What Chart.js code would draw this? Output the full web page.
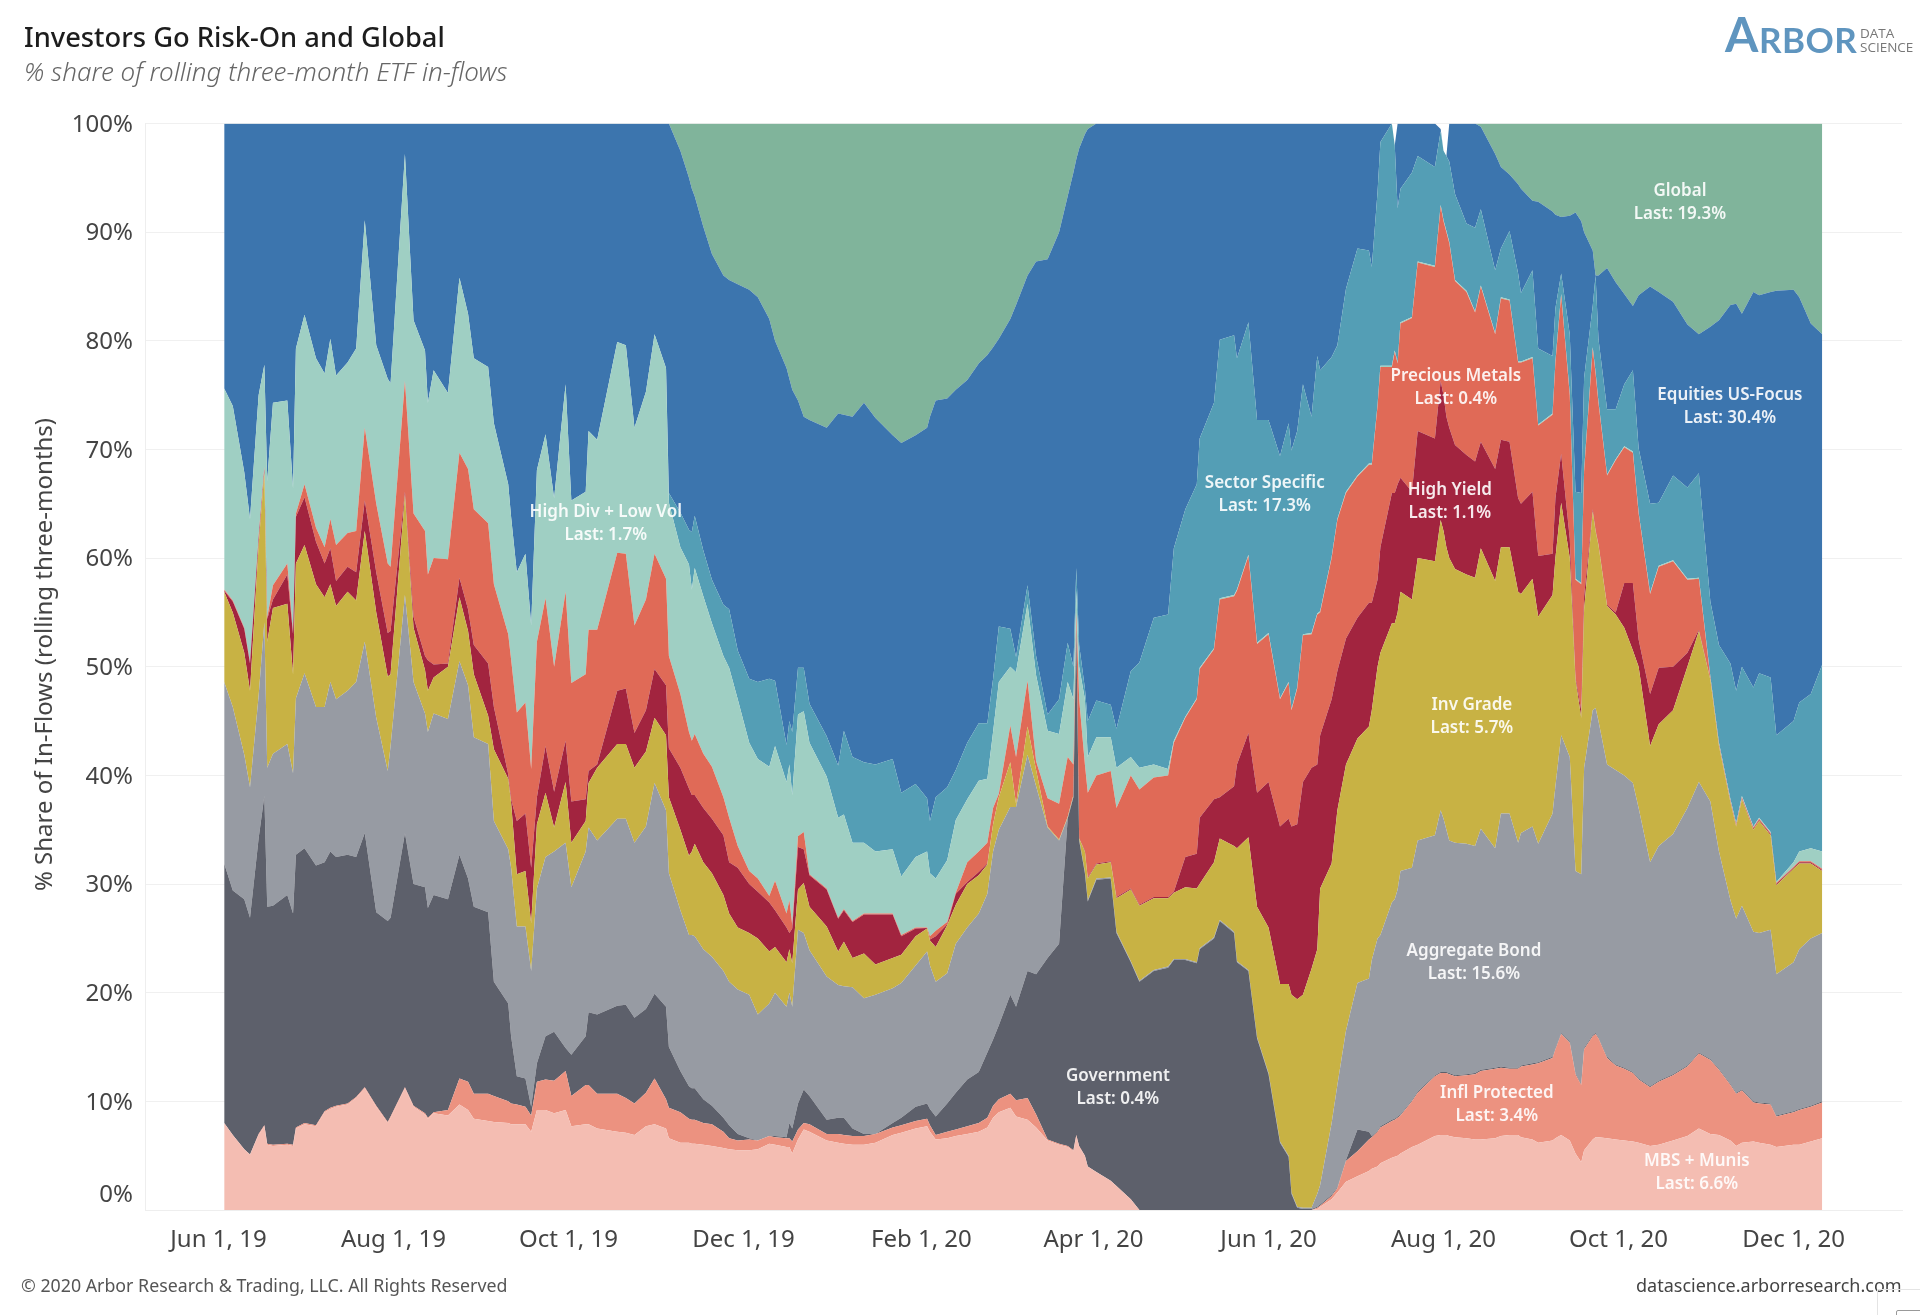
<!DOCTYPE html>
<html><head><meta charset="utf-8">
<style>
html,body{margin:0;padding:0;background:#fff;width:1920px;height:1315px;overflow:hidden}
#wrap{position:relative;width:1920px;height:1315px}
canvas{position:absolute;left:0;top:0}
.t{position:absolute;white-space:nowrap;font-family:"Noto Sans",sans-serif}
#title{left:24px;top:18px;font-size:27.3px;font-weight:500;color:#1d1d1d}
#sub{left:24px;top:53px;font-size:26px;font-style:italic;font-weight:300;color:#666}
#foot{left:21px;top:1273px;font-size:17.8px;color:#555}
#site{left:1636px;top:1273px;font-size:18px;color:#444}
#logoA{left:1725px;top:5px;font-family:Lato,sans-serif;font-size:48px;color:#5f95bf;font-weight:700}
#logoB{left:1759px;top:18px;font-family:Lato,sans-serif;font-size:35px;color:#5f95bf;font-weight:700;letter-spacing:.5px}
#logoC{left:1860px;top:26px;font-family:"Open Sans",sans-serif;font-size:13.5px;line-height:14px;color:#777}
#corner{position:absolute;left:1877px;top:1289px;width:43px;height:26px;border-left:1px solid #e4e4e4;border-top:1px solid #e4e4e4;box-sizing:border-box}
#corner i{position:absolute;left:18px;top:20px;width:30px;height:10px;border:1px solid #999;border-radius:2px;box-sizing:border-box}
</style></head>
<body><div id="wrap">
<canvas id="c" width="1920" height="1315"></canvas>
<div class="t" id="title">Investors Go Risk-On and Global</div>
<div class="t" id="sub">% share of rolling three-month ETF in-flows</div>
<div class="t" id="foot">© 2020 Arbor Research &amp; Trading, LLC. All Rights Reserved</div>
<div class="t" id="site">datascience.arborresearch.com</div>
<div class="t" id="logoA">A</div><div class="t" id="logoB">RBOR</div>
<div class="t" id="logoC">DATA<br>SCIENCE</div>
<div id="corner"><i></i></div>
</div>
<script src="https://cdn.jsdelivr.net/npm/chart.js@4"></script>
<script>
const days = [
2,5,9,11,14,16,17,19,24,26,27,30,34,37,39,41,45,48,51,55,59,60,65,68,72,73,75,80,84,87,89,94,96,101,102,104,107,109,111,114,117,121,123,128,129,132,139,142,145,149,152,156,157,
161,164,165,166,169,172,176,178,181,185,188,192,194,198,199,200,202,204,206,212,216,218,221,225,229,235,238,243,247,248,250,254,257,261,265,268,270,272,276,278,282,285,289,293,296,298,299,300,302,303,306,311,313,318,
321,326,331,333,337,341,342,347,349,354,355,359,362,366,370,373,374,376,378,381,383,384,388,390,393,397,401,402,404,405,409,410,411,412,416,418,424,426,427,428,429,431,435,438,440,445,447,450,453,
454,458,460,465,466,468,471,473,475,476,479,480,481,484,487,490,493,495,499,502,507,512,516,520,523,527,529,531,535,537,541,543,549,551,555,559];

// Upper edge of each stacked band, in cumulative % share
const topMbs = [
8,6.9,5.6,5.1,6.9,7.7,6,5.9,6,5.9,7.5,7.9,7.7,9,9.3,9.5,9.7,10.3,11.2,9.5,8,8.5,11.2,9.5,8.8,8.4,8.9,8.7,9.7,9.2,8.4,8.2,8.1,8,7.9,7.9,7.9,7.2,9.2,9.2,8.9,9.2,7.7,7.9,7.9,7.5,7.2,7.1,6.9,7.7,7.9,7.5,6.6,
6.2,6.2,6.1,6.1,6,5.9,5.7,5.6,5.5,5.5,5.6,6.1,6,5.8,5.8,5.2,6.5,7.4,7.2,6.4,6.2,6.1,6,6,6.2,6.9,7.1,7.5,7.7,7.2,6.5,6.6,6.8,7,7.2,7.6,8.5,9,9.4,8.6,8.3,7.6,6.4,6,5.8,5.4,6.8,5.8,5,4,3.5,2.7,2.2,1,
0,0,0,0,0,0,0,0,0,0,0,0,0,0,0,0,0,0,0,0,0.1,0.3,1,1.6,2.6,3.1,3.6,3.8,4,4.3,4.8,4.9,5,5.2,5.8,6,6.8,6.9,6.9,6.9,6.8,6.7,6.6,6.5,6.5,6.6,6.8,6.9,6.9,
6.7,6.5,6.2,6.4,6.6,6.9,6.4,5.2,4.4,5.5,6.5,6.7,6.7,6.6,6.5,6.4,6.3,6.2,5.9,6,6.4,6.8,7.5,7,6.9,6.4,5.9,6.2,6.3,6.2,6,5.8,6,6,6.3,6.6];
const topInfl = [
8,6.9,5.6,5.1,7,7.8,6.1,6,6.1,6,7.6,8,7.8,9.1,9.4,9.6,9.8,10.4,11.3,9.6,8.1,8.6,11.3,9.6,8.9,8.5,9,9.2,12.1,11.8,10.7,10.7,10.5,10,9.8,9.7,9.5,8.7,11.8,12,11.9,12.8,10.5,11.5,11.5,10.7,10.7,10.3,9.8,10.8,12.1,10.2,9.4,
9,8.4,8.3,8.3,8,7.9,7.2,6.6,6.4,6.5,6.4,6.8,6.7,6.6,6.6,6.3,7.4,8,7.9,7,7,6.9,6.8,6.8,7,7.6,7.8,8.2,8.4,7.8,6.9,7.2,7.4,7.7,8,8.5,9.6,10.2,10.7,10.1,10.3,8.8,6.5,6.1,5.9,5.5,6.9,5.9,5,4,3.5,2.7,2.2,1,
0,0,0,0,0,0,0,0,0,0,0,0,0,0,0,0,0,0,0,0,0.2,0.4,1.3,2,4.5,5.4,6.5,6.7,7.2,7.6,8.2,8.3,8.5,8.7,10,10.8,12.3,12.6,12.6,12.6,12.5,12.3,12.4,12.5,12.8,13,13.1,13,13,
13.2,13.4,13.5,14,14.8,16.2,15.4,12.5,11.5,14.8,16,16.2,15.8,14,13.3,13,12.6,12,11.3,11.8,12.4,13.2,14.4,13.8,12.9,11.5,10.7,11,9.9,9.8,9.7,8.6,9,9.2,9.5,9.9];
const topGov = [
31.9,29.4,28.6,26.9,34.2,38.1,27.9,28,29,27.3,32.7,33.3,31.7,32,33,32.5,32.7,32.5,34.7,27.4,26.6,26.9,34.7,30,29.7,27.8,29,28.6,32.7,30.5,27.9,27.4,21,19,16,12.3,12.1,9.5,13.5,16,16.4,14.9,14.3,16,18.2,18,18.8,18.9,17.7,18.5,19.9,18.7,15,
12.8,11.4,11.2,11.2,10.2,9.6,8.5,7.8,7,6.6,6.4,6.8,6.8,6.7,8,7.5,9.8,11.1,10.5,8.3,8.5,8.5,7.5,7,7,8,8.5,9.5,9.8,9.3,8.6,9.8,10.8,12,12.7,14.5,15.7,17,19.8,18.7,22,21.7,23.2,24.5,36,38,53.5,34,31,28.4,30.4,30.5,25.5,22.8,
21,22,22.3,23,23,22.7,24,25,26.6,25.5,22.8,22,15.8,12.5,6.2,4.9,1.5,0.2,0.1,0.1,0.3,0.5,1.4,2.1,4.6,7.4,7.2,6.8,7.3,7.7,8.3,8.4,8.6,8.8,10.1,10.9,12.4,12.7,12.7,12.7,12.6,12.4,12.5,12.6,12.9,13.1,13.2,13.1,13.1,
13.3,13.5,13.6,14.1,14.9,16.3,15.5,12.6,11.6,14.9,16.1,16.3,15.9,14.1,13.4,13.1,12.7,12.1,11.4,11.9,12.5,13.3,14.5,13.9,13,11.6,10.8,11.1,10,9.9,9.8,8.7,9.1,9.3,9.6,10];
const topAgg = [
48.6,46.3,41.9,38.9,47.3,54.1,40.7,42,42.9,40.2,47.1,49.4,46.3,46.3,48.6,47,47.8,48.6,52.3,45.3,40.4,42.7,56.6,48.6,45.7,44,45.7,45.2,50.5,48.3,43.5,42.9,35.8,33.2,31.5,26.1,26.1,22,29.6,32.5,33,33.8,29.7,33,35.2,34,36,36,33.8,35.3,39.3,36.8,31,
27.6,25.3,25.3,25.2,24,23.3,22,21,20.3,19.8,18,19,20,18.7,20,18.7,25.8,25.5,23.9,21.5,20.7,20.6,20.5,19.5,19.8,20.4,20.9,22.5,23.8,22.5,21,21.8,24.5,26,27.3,29.1,33,35,37.1,37.1,41.9,39,35.2,34,36.1,38.1,54,34.1,31.1,28.5,30.5,30.6,25.6,22.9,
21.1,22.1,22.4,23.1,23.1,22.8,24.1,25.1,26.7,25.6,22.9,22.1,15.9,12.6,6.3,5,1.6,0.3,0.2,0.2,1.5,2.3,8,11.5,16.5,20.9,21.3,23,25,25.3,28.3,28.6,29.5,31.2,31.5,34,34.5,36.8,36,35,34,33.8,33.7,33.5,35.1,33.3,36.5,36.5,33.8,
34.7,35.3,33.7,36.5,39,43.7,41.7,31.2,30.9,40.7,46,46.2,45,41,40.5,40,39.3,37,32,33.5,34.6,37,39.4,37.6,33,28.5,26.8,28,25.6,25.5,25.8,21.7,22.8,24,25,25.5];
const topInvGrade = [
56.9,55,51.3,47.8,61.2,67.9,52.3,55.4,55.8,49.3,59.5,61.2,57.6,56.4,57.6,55.6,56.9,56.1,62.5,55,49.1,49.3,65.8,53.6,49.7,47.8,49,50,56.4,53.3,49.3,45.5,42.4,39.7,37.5,30.9,31.2,26.4,35.5,38.4,35.2,39.4,33.8,35.8,39.3,40.7,42.9,42.9,40.7,42.2,45.3,43.7,38,
35,32.6,33,33.7,32,31,29,27.3,26,25.5,25,23.8,24.2,22.8,24,22.7,29.5,30.1,27.9,26.1,23.8,24.7,23.2,23.6,22.6,23.2,23.5,25.2,25.9,24.8,24.2,26.2,28.1,30,30.8,31.8,35.5,38,41.2,37.4,44.5,40.5,35.3,34.1,36.2,38.2,54.2,34.2,33,30.5,31.8,32,28.7,29.5,
28,28.7,28.7,29.2,29.7,29.6,30,32,34.2,33.5,33.3,34.3,27.9,26,20.8,20.8,19.8,19.4,19.8,22.2,24,29.6,31.9,36.8,41,43.4,44.5,46,50,51.3,54,54,55,56.9,56.2,60,59.7,63.5,62.5,61,60,59,58.5,58.2,60.9,57.9,61,61,56.9,
56.7,58.1,54.6,56.6,60,65.1,60,48.8,45.3,55.3,64.3,62.5,61.2,55.6,54.8,53.6,51.5,50,42.7,44.7,46,50,53.3,48.8,42.7,37.5,35.3,37.8,35,35.8,34.5,29.9,31.4,31.9,31.9,31.2];
const topHighYield = [
57,56,53.5,50.3,61.8,68.2,54.4,56.2,58.5,53,63.8,65.6,61.5,59.5,60.9,57.9,59.2,58.7,65.3,58.7,53.1,53.3,66.1,54.6,51,50.6,50.2,50.3,58.2,55.3,52,50.3,46.3,40.1,37.8,35.8,36.5,31.5,38,42.7,38.5,43.2,37.6,37.8,40.4,41,47.8,48,43.9,46,49.8,48.3,42.5,
40.7,38.8,38.2,38.2,37,36,34.5,32,31.5,30,29.3,28.3,27.6,26,25.5,25.9,33.4,33.2,30.8,29.5,26.8,27.6,26.5,27.2,27.2,27.2,25.2,25.9,25.95,24.9,25.2,26.3,29.1,30.2,31.1,31.9,35.5,38,41.2,37.4,44.5,40.5,35.3,34.1,36.2,38.2,54.2,34.2,33.1,30.6,31.9,32.1,28.8,29.6,
28.1,28.8,28.8,29.3,32.5,32.8,36.1,37.8,38,39,41,43.9,38.4,39.4,35.3,36,35.3,35.5,39.4,40.7,41,43.7,47,49.6,52.6,54.5,55.9,55.9,58,61,66,66,66.8,67.4,66.1,71.7,71,76.3,75,73,72,70.4,69.5,68.9,70.7,68.2,70.9,70.7,65.5,
65,66.1,60.2,60.4,65.5,69.6,61.8,49,46,56.5,64.5,62.6,61.3,55.7,55,57.7,57.7,52.5,47.5,49.9,50,51.3,53.4,48.9,42.8,37.6,35.4,37.9,35.1,35.9,34.6,30,31.5,32,32,31.3];
const topPrecious = [
57.1,56.1,53.6,50.4,62,68.4,54.5,57.5,59.5,53.1,64.1,66.8,62.8,61,63.6,61.2,62.3,62.5,72,65,59.5,59.2,76.3,64.1,62.5,58.5,60,59.9,69.7,68.2,64.5,63.2,57.6,53,50.7,45.8,46.7,40.6,52.3,56.3,50,56.9,48.5,49.3,53.4,53.4,60.5,60.4,53.8,56.2,60.4,58.1,51,
47.5,44,43.2,43.8,42,40.8,38,36.1,33.5,31.2,30.5,28.9,30.3,27.3,28.5,26.2,34.4,34.8,30.9,29.6,26.9,27.7,26.6,27.3,27.3,27.3,25.3,26,26,25.2,25.7,26.5,29.2,32,33,33.8,37,38.3,44.6,41.7,48.7,41.3,37.9,37.4,41.7,41,55,47,41,38.4,40,40.4,37,40,
38.7,39.8,40,43,45.3,47,49.8,51.6,56.2,56.5,57,60.2,52.1,53,47,48.5,46,48,52.9,53,54.8,55,60,63.5,66,67.5,68.6,68.6,74,77.6,77.6,79,77.9,81.6,82.1,87.2,86.8,92.4,91,90,89,85.5,84.5,82.6,85,80.6,83.9,83.7,78,
78,78.4,72.2,73.2,78,84.2,75,58,57.6,68,79.3,77,74.3,67.6,69,70.2,69.7,64.1,56.7,59.2,59.7,58,58.1,49,42.9,37.7,35.5,38,35.2,36,34.7,30.1,31.6,32.1,32.1,31.4];
const topHighDiv = [
75.6,74,67.9,63.6,75,77.8,67.1,74.3,74.5,66.4,79.3,82.4,78.4,77,80.2,76.8,78,79.3,91.1,79.6,76.5,76.1,97.2,81.9,79.1,74.3,77.3,75.2,85.8,82.5,78.4,77.6,72.4,66.8,63.8,58.7,60.4,53.8,68.1,71.4,65.5,76,65.3,66.1,71.7,70.9,79.9,79.6,72,75.3,80.6,77.5,65.1,
61,59.4,57.1,59.1,56.5,54,51,49.9,47,43,41.5,40.8,42.7,39.4,41,38.2,45.6,45.9,43,39.9,36.1,36.4,33.8,33.8,33,33.2,30.7,32.5,33,31,30.5,32.2,35.9,37.8,39.5,39.7,44,48.6,50,49.5,55.8,49.2,44.1,43.8,48.6,47,57,50,47,41.7,43.5,43.5,40.7,41.7,
40.7,41,40.6,43.2,45.4,47.1,49.9,51.7,56.3,56.6,57.1,60.3,52.2,53.1,47.1,48.6,46.1,48.1,53,53.1,54.9,55.1,60.1,63.6,66.1,67.6,68.7,68.7,74.1,77.7,77.7,79.1,78,81.7,82.2,87.3,86.9,92.5,91.1,90.1,89.1,85.6,84.6,82.7,85.1,80.7,84,83.8,78.1,
78.1,78.5,72.3,73.3,78.1,84.3,75.1,58.1,57.7,68.1,79.4,77.1,74.4,67.7,69.1,70.3,69.8,64.2,56.8,59.3,59.8,58.1,58.2,49.1,43,37.8,35.6,38.1,35.3,36.1,34.8,30.2,32,33,33.3,33];
const topSector = [
75.6,74,67.9,63.6,75,77.8,67.1,74.3,74.5,66.4,79.3,82.4,78.4,77,80.2,76.8,78,79.3,91.1,79.6,76.5,76.1,97.2,81.9,79.1,74.3,77.3,75.2,85.8,82.5,78.4,77.6,72.4,66.8,63.8,58.7,60.4,53.8,68.1,71.4,65.5,76,65.3,66.1,71.7,70.9,79.9,79.6,72,75.3,80.6,77.5,66,
64.2,62.6,62.4,63.9,60.7,58,55.7,55.3,51.5,48.9,48.6,48.9,48.7,42.8,45,44,49.9,49.9,46.6,43.6,40.9,44.1,41.7,41.2,41,41.5,38.4,39.2,37.9,35.8,38,38.9,40.5,43,44.8,44.8,48.9,53.7,53.5,50.9,57.5,51,45.6,47,52.2,50,59.1,52,48,45,46.9,46.5,44.3,49.6,
50.4,54.5,54.8,60.9,64.5,66.8,71,74.3,80.1,80.5,78.4,81.7,72.7,72.7,69.4,72.4,69.9,71.7,76,73,78.6,77.3,78.5,79.6,84.8,88.5,88.3,86.8,93.7,98.3,100,98,92.2,94,95.5,97,96,99.3,97.5,97,96.5,93.5,90.8,90.4,92.1,86.5,88.5,90.1,86.2,
84.4,86.5,79.3,78.6,83,86.2,80.6,66.1,66,76.6,83.2,86,80.2,73.7,73.7,76,77.3,70.1,65,65.1,67.6,66.5,67.8,56,52,50.3,47.8,50,48.1,49.4,49,43.7,45,46.7,47.5,50.2];
const topEquities = [
100,100,100,100,100,100,100,100,100,100,100,100,100,100,100,100,100,100,100,100,100,100,100,100,100,100,100,100,100,100,100,100,100,100,100,100,100,100,100,100,100,100,100,100,100,100,100,100,100,100,100,100,100,
97.5,95,94,93.3,90.5,88,86,85.6,85.2,84.7,84,82,80,77.5,76.5,75.5,74.5,73,72.7,72,73.3,73.2,73,74.3,72.9,71.3,70.6,71.3,72,73,74.5,74.7,75.5,76.4,77.9,78.7,79.4,80.2,82,83.3,86,87.3,87.5,90,93.3,95.5,96.7,97.7,99,99.5,100,100,100,100,
100,100,100,100,100,100,100,100,100,100,100,100,100,100,100,100,100,100,100,100,100,100,100,100,100,100,100,100,100,100,100,98,100,100,100,100,100,99.5,97.5,97,100,100,100,100,99.7,97.2,96,95.3,94.4,
94,92.9,92.8,91.9,91.6,91.4,91.5,91.8,91,90,88.3,86,86,86.7,85.4,84.3,83.2,84.2,85,84.5,83.6,81.5,80.6,81.3,81.9,83.3,83.4,82.5,84.5,84.2,84.5,84.6,84.7,84,81.6,80.6];
const topGlobal = [
100,100,100,100,100,100,100,100,100,100,100,100,100,100,100,100,100,100,100,100,100,100,100,100,100,100,100,100,100,100,100,100,100,100,100,100,100,100,100,100,100,100,100,100,100,100,100,100,100,100,100,100,100,
100,100,100,100,100,100,100,100,100,100,100,100,100,100,100,100,100,100,100,100,100,100,100,100,100,100,100,100,100,100,100,100,100,100,100,100,100,100,100,100,100,100,100,100,100,100,100,100,100,100,100,100,100,100,
100,100,100,100,100,100,100,100,100,100,100,100,100,100,100,100,100,100,100,100,100,100,100,100,100,100,100,100,100,100,100,98,100,100,100,100,100,99.5,97.5,97,100,100,100,100,100,100,100,100,100,
100,100,100,100,100,100,100,100,100,100,100,100,100,100,100,100,100,100,100,100,100,100,100,100,100,100,100,100,100,100,100,100,100,100,100,100];

const seriesNames = ["MBS + Munis","Infl Protected","Government","Aggregate Bond","Inv Grade","High Yield","Precious Metals","High Div + Low Vol","Sector Specific","Equities US-Focus","Global"];
const lastValues = ["6.6%","3.4%","0.4%","15.6%","5.7%","1.1%","0.4%","1.7%","17.3%","30.4%","19.3%"];
const tickDays = [0,61,122,183,245,305,366,427,488,549];
const tickLabels = ["Jun 1, 19","Aug 1, 19","Oct 1, 19","Dec 1, 19","Feb 1, 20","Apr 1, 20","Jun 1, 20","Aug 1, 20","Oct 1, 20","Dec 1, 20"];

const bandColors = ["#f4bdb2","#ec9280","#5d606b","#979ba3","#c8b244","#a2243f","#e06a57","#9fcfc3","#549eb5","#3c75ae","#80b49b"];
const labelDay = [515.3,445.6,313.5,437.6,436.9,429.2,431.3,135,364.7,526.8,509.4];
const labelPct = [3.4,9.7,11.3,22.8,45.4,65.2,75.7,63.2,65.8,73.9,92.7];

const tops = [topMbs,topInfl,topGov,topAgg,topInvGrade,topHighYield,topPrecious,topHighDiv,topSector,topEquities,topGlobal];

const tickFont = {family:'"Noto Sans",sans-serif',size:24};
const labelPlugin = {
  id:'bandLabels',
  afterDatasetsDraw(chart){
    const {ctx,scales:{x,y}} = chart;
    ctx.save();
    ctx.textAlign='center'; ctx.textBaseline='middle';
    ctx.font='600 17px "Noto Sans",sans-serif';
    ctx.fillStyle='rgba(255,255,255,.9)';
    seriesNames.forEach((n,i)=>{
      const px=x.getPixelForValue(labelDay[i]), py=y.getPixelForValue(labelPct[i]);
      ctx.fillText(n,px,py-11.5);
      ctx.fillText('Last: '+lastValues[i],px,py+11.5);
    });
    ctx.font='24px "Noto Sans",sans-serif';
    ctx.fillStyle='#444'; ctx.textAlign='right';
    ctx.fillText('0%',133,y.getPixelForValue(0)-15);
    ctx.translate(45,654.5); ctx.rotate(-Math.PI/2);
    ctx.textAlign='center';
    ctx.font='24px "Noto Sans",sans-serif';
    ctx.fillText('% Share of In-Flows (rolling three-months)',0,0);
    ctx.restore();
  }
};

new Chart(document.getElementById('c'),{
  type:'line',
  data:{datasets:tops.map((t,i)=>({
    label:seriesNames[i],
    data:days.map((d,j)=>({x:d,y:t[j]})),
    backgroundColor:bandColors[i],
    borderWidth:0,pointRadius:0,tension:0,
    fill:i===0?'origin':'-1'
  }))},
  options:{
    responsive:false,animation:false,devicePixelRatio:1,
    layout:{padding:{top:123.5,right:18,left:0,bottom:0}},
    plugins:{legend:{display:false},tooltip:{enabled:false},title:{display:false}},
    scales:{
      x:{type:'linear',min:-25.6,max:586.8,
        grid:{display:false},
        border:{color:'#eeeeee'},
        afterBuildTicks:s=>{s.ticks=tickDays.map(v=>({value:v}));},
        afterFit:s=>{s.height=105;},
        ticks:{color:'#444',font:tickFont,padding:8,maxRotation:0,autoSkip:false,
          callback:v=>tickLabels[tickDays.indexOf(v)]}
      },
      y:{min:0,max:100,
        afterFit:s=>{s.width=145;},
        grid:{color:'#f0f0f0',drawTicks:false},
        border:{color:'#eeeeee'},
        ticks:{color:'#444',font:tickFont,stepSize:10,padding:12,labelOffset:1.5,
          callback:v=>v===0?'':v+'%'}
      }
    }
  },
  plugins:[labelPlugin]
});
</script>
</body></html>
